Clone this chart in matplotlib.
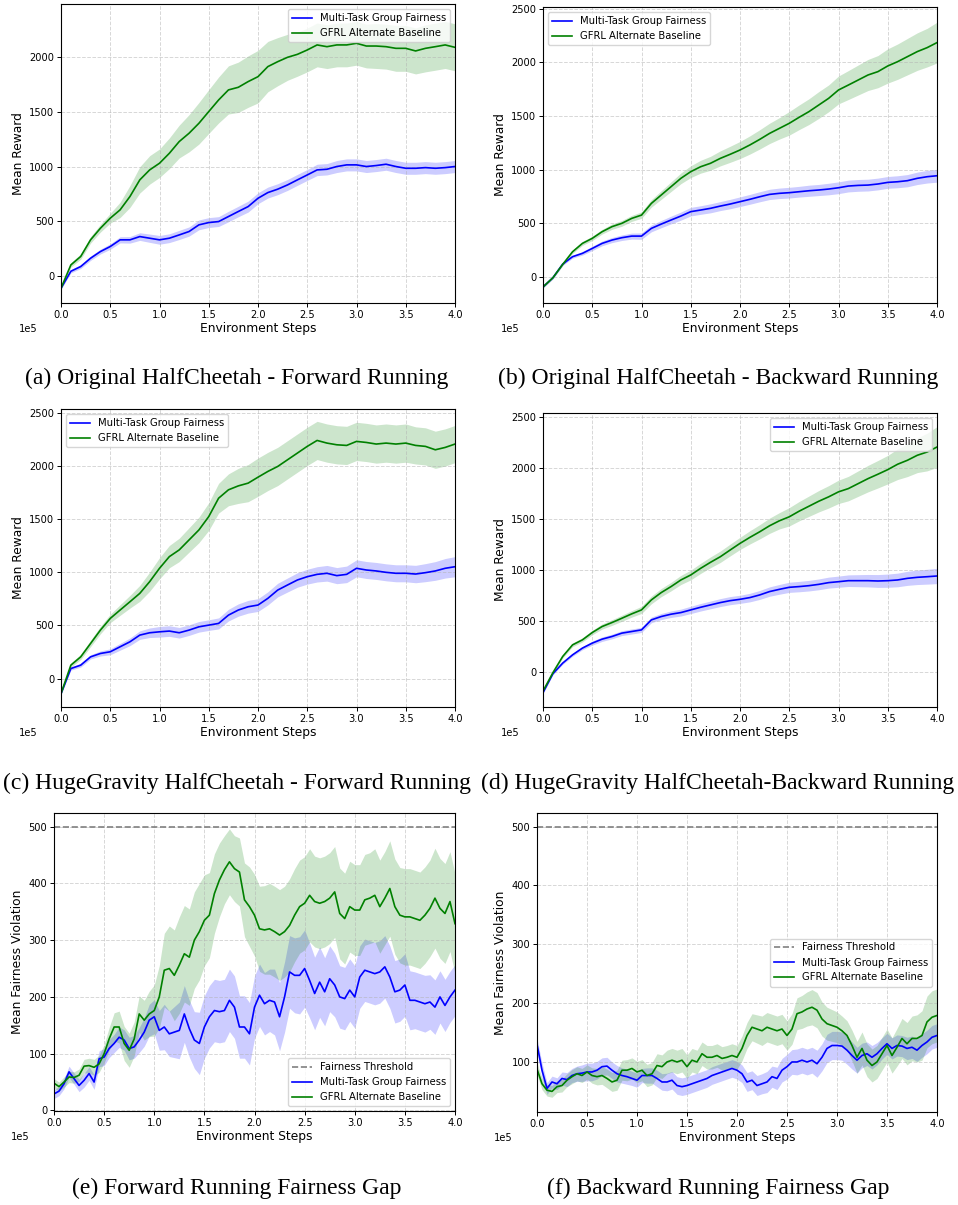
import matplotlib
matplotlib.use('Agg')
import matplotlib.pyplot as plt
import numpy as np

W, H = 958, 1205

# x grids (environment steps)
steps_reward = np.arange(41) * 10000
steps_fair = np.arange(81) * 5000

# (a) Original HalfCheetah - Forward Running
a_mtgf = [-110, 45, 88, 164, 225, 271, 332, 332, 362, 347,
          332, 347, 377, 408, 469, 490, 499, 545, 591, 636,
          712, 764, 795, 834, 880, 925, 971, 977, 1002, 1017,
          1017, 1002, 1011, 1023, 1002, 986, 986, 992, 986, 992,
          1002]
a_mtgf_hw = [10, 15, 18, 20, 22, 25, 28, 30, 35, 38,
             40, 40, 42, 42, 45, 45, 45, 48, 48, 50,
             50, 50, 50, 50, 50, 50, 52, 52, 55, 55,
             55, 55, 55, 55, 55, 55, 55, 55, 55, 55,
             55]
a_gfrl = [-110, 103, 180, 332, 438, 530, 606, 728, 880, 971,
          1032, 1123, 1230, 1306, 1397, 1504, 1610, 1702, 1726, 1778,
          1823, 1915, 1960, 2000, 2027, 2067, 2113, 2097, 2113, 2113,
          2128, 2103, 2103, 2097, 2082, 2082, 2058, 2082, 2097, 2113,
          2091]
a_gfrl_hw = [15, 20, 25, 30, 35, 45, 70, 100, 120, 130,
             130, 140, 150, 170, 190, 200, 210, 220, 230, 235,
             240, 230, 220, 210, 200, 200, 200, 200, 200, 200,
             200, 200, 205, 205, 210, 210, 210, 215, 215, 215,
             215]

# (b) Original HalfCheetah - Backward Running
b_mtgf = [-95, -10, 118, 187, 218, 264, 311, 342, 364, 379,
          379, 451, 491, 529, 566, 607, 622, 638, 659, 678,
          700, 722, 746, 768, 778, 784, 793, 802, 809, 818,
          830, 846, 852, 855, 865, 880, 886, 896, 918, 933,
          942]
b_mtgf_hw = [10, 10, 12, 14, 16, 20, 22, 24, 26, 28,
             30, 32, 34, 36, 38, 40, 40, 42, 42, 44,
             45, 46, 47, 48, 49, 50, 50, 52, 52, 54,
             55, 55, 55, 55, 55, 55, 56, 57, 58, 59,
             60]
b_gfrl = [-95, -10, 115, 233, 311, 358, 420, 467, 498, 544,
          575, 684, 762, 840, 918, 980, 1026, 1058, 1104, 1142,
          1182, 1229, 1281, 1337, 1384, 1431, 1487, 1540, 1602, 1664,
          1742, 1788, 1835, 1882, 1913, 1966, 2006, 2053, 2100, 2137,
          2184]
b_gfrl_hw = [10, 10, 12, 15, 18, 20, 22, 25, 27, 28,
             30, 35, 40, 45, 50, 55, 60, 65, 70, 75,
             80, 85, 90, 95, 100, 110, 115, 120, 125, 125,
             130, 135, 140, 145, 150, 160, 165, 170, 175, 180,
             190]

# (c) HugeGravity HalfCheetah - Forward Running
c_mtgf = [-142, 94, 126, 204, 236, 252, 299, 346, 409, 431,
          440, 447, 431, 456, 487, 503, 519, 597, 645, 676,
          692, 755, 833, 881, 928, 959, 981, 991, 969, 981,
          1038, 1022, 1013, 1000, 991, 991, 984, 997, 1013, 1038,
          1053]
c_mtgf_hw = [10, 15, 18, 20, 24, 28, 32, 36, 40, 45,
             50, 50, 50, 50, 50, 50, 52, 55, 58, 60,
             60, 62, 64, 66, 68, 70, 72, 74, 76, 78,
             80, 80, 80, 80, 80, 80, 82, 85, 88, 92,
             95]
c_gfrl = [-142, 126, 204, 330, 456, 566, 645, 723, 802, 912,
          1038, 1148, 1211, 1305, 1399, 1525, 1698, 1777, 1814, 1840,
          1896, 1950, 1997, 2060, 2123, 2186, 2242, 2217, 2201, 2195,
          2233, 2223, 2208, 2217, 2208, 2217, 2195, 2186, 2154, 2176,
          2208]
c_gfrl_hw = [15, 20, 25, 30, 35, 40, 50, 60, 75, 90,
             100, 105, 110, 115, 120, 130, 140, 150, 165, 175,
             180, 180, 180, 180, 180, 180, 180, 180, 180, 180,
             180, 180, 180, 180, 180, 180, 175, 175, 175, 175,
             175]

# (d) HugeGravity HalfCheetah - Backward Running
d_mtgf = [-205, -20, 85, 166, 232, 281, 320, 346, 379, 395,
          411, 509, 542, 565, 581, 607, 633, 656, 679, 698,
          711, 728, 754, 787, 809, 829, 836, 845, 858, 875,
          884, 894, 894, 894, 891, 894, 901, 917, 927, 933,
          940]
d_mtgf_hw = [10, 10, 12, 14, 16, 20, 22, 23, 24, 25,
             25, 28, 30, 32, 34, 36, 37, 38, 39, 40,
             40, 42, 44, 46, 48, 50, 51, 52, 53, 54,
             55, 57, 59, 61, 63, 65, 67, 69, 71, 73,
             75]
d_gfrl = [-190, -10, 150, 264, 313, 385, 444, 483, 525, 568,
          607, 705, 777, 836, 901, 950, 1015, 1074, 1129, 1195,
          1260, 1319, 1374, 1433, 1482, 1521, 1576, 1625, 1674, 1717,
          1766, 1798, 1847, 1896, 1939, 1984, 2037, 2076, 2125, 2157,
          2206]
d_gfrl_hw = [10, 12, 15, 18, 20, 22, 25, 28, 30, 32,
             35, 38, 40, 42, 45, 48, 50, 53, 56, 58,
             60, 65, 70, 75, 80, 90, 95, 100, 105, 110,
             115, 120, 125, 130, 135, 140, 150, 160, 170, 185,
             200]

# (e) Forward Running Fairness Gap
e_mtgf = [29, 34, 47, 68, 56, 44, 53, 65, 50, 91,
          94, 109, 118, 129, 124, 109, 112, 124, 138, 159,
          165, 141, 147, 135, 138, 141, 170, 144, 124, 118,
          147, 165, 176, 174, 176, 194, 182, 147, 147, 135,
          182, 203, 188, 194, 191, 165, 200, 244, 238, 238,
          250, 229, 206, 226, 209, 232, 221, 200, 197, 212,
          200, 235, 247, 244, 241, 244, 253, 235, 209, 212,
          221, 194, 194, 191, 188, 191, 182, 200, 185, 200,
          212]
e_mtgf_hw = [8, 8, 9, 10, 10, 11, 12, 12, 13, 14,
             15, 16, 16, 18, 18, 20, 20, 22, 25, 28,
             30, 35, 40, 40, 45, 50, 50, 50, 50, 55,
             55, 55, 55, 55, 55, 55, 55, 55, 55, 55,
             55, 55, 55, 55, 58, 60, 62, 64, 66, 68,
             68, 66, 64, 62, 60, 58, 56, 55, 55, 55,
             55, 55, 55, 55, 55, 55, 55, 55, 55, 55,
             55, 52, 50, 50, 50, 48, 48, 46, 46, 45,
             45]
e_gfrl = [48, 42, 50, 59, 58, 62, 78, 79, 76, 82,
          100, 126, 147, 147, 118, 106, 126, 170, 159, 170,
          176, 200, 247, 250, 238, 256, 276, 270, 300, 315,
          335, 344, 382, 406, 424, 438, 426, 420, 371, 359,
          344, 320, 318, 320, 315, 309, 315, 326, 344, 359,
          365, 379, 368, 365, 368, 374, 385, 347, 338, 359,
          353, 353, 371, 374, 379, 359, 374, 391, 359, 344,
          341, 341, 338, 335, 344, 356, 374, 356, 347, 368,
          329]
e_gfrl_hw = [8, 8, 9, 10, 10, 11, 12, 13, 14, 15,
             16, 20, 25, 28, 30, 30, 30, 32, 35, 40,
             45, 55, 65, 75, 80, 85, 85, 85, 85, 85,
             80, 75, 70, 65, 60, 58, 58, 60, 65, 70,
             72, 75, 78, 80, 80, 80, 80, 82, 82, 82,
             82, 82, 80, 80, 80, 80, 80, 80, 80, 80,
             80, 80, 80, 80, 82, 82, 82, 84, 84, 84,
             85, 85, 85, 85, 85, 85, 88, 88, 88, 88,
             88]

# (f) Backward Running Fairness Gap
f_mtgf = [130, 86, 55, 66, 63, 72, 70, 77, 80, 81,
          83, 83, 86, 92, 93, 86, 80, 77, 75, 72,
          69, 77, 77, 77, 72, 66, 66, 69, 60, 58,
          60, 63, 66, 69, 72, 77, 80, 83, 86, 89,
          86, 80, 66, 69, 60, 63, 66, 75, 72, 86,
          92, 100, 100, 103, 100, 103, 97, 108, 123, 128,
          128, 127, 120, 111, 103, 111, 114, 108, 114, 123,
          131, 123, 128, 127, 123, 125, 120, 128, 134, 142,
          145]
f_mtgf_hw = [10, 12, 10, 10, 10, 11, 12, 12, 13, 14,
             15, 15, 15, 15, 15, 14, 14, 13, 13, 12,
             12, 12, 13, 13, 14, 14, 15, 15, 15, 15,
             15, 15, 15, 15, 15, 15, 15, 15, 15, 15,
             15, 15, 16, 16, 17, 17, 18, 18, 19, 20,
             21, 21, 22, 22, 22, 22, 23, 23, 24, 24,
             24, 24, 24, 23, 22, 21, 20, 20, 19, 18,
             18, 18, 18, 18, 19, 19, 19, 20, 20, 20,
             20]
f_gfrl = [88, 63, 52, 50, 58, 60, 69, 75, 80, 77,
          83, 77, 75, 77, 72, 66, 69, 86, 86, 89,
          83, 86, 77, 80, 94, 92, 100, 103, 100, 103,
          92, 103, 100, 114, 108, 108, 111, 106, 108, 111,
          108, 123, 145, 159, 156, 153, 159, 156, 153, 156,
          145, 156, 182, 185, 190, 193, 188, 173, 165, 162,
          159, 153, 145, 128, 108, 123, 103, 94, 100, 114,
          128, 111, 125, 140, 131, 140, 140, 145, 168, 176,
          179]
f_gfrl_hw = [10, 10, 10, 10, 10, 11, 11, 12, 12, 12,
             12, 13, 14, 15, 16, 16, 17, 17, 18, 18,
             18, 18, 19, 19, 20, 20, 20, 20, 20, 20,
             20, 20, 20, 20, 20, 20, 20, 20, 20, 20,
             20, 21, 22, 23, 24, 25, 25, 25, 25, 25,
             25, 26, 27, 28, 29, 30, 30, 29, 28, 27,
             26, 25, 25, 26, 27, 28, 28, 28, 28, 28,
             28, 30, 32, 34, 36, 38, 40, 42, 44, 45,
             45]

captions = ["(a) Original HalfCheetah - Forward Running",
            "(b) Original HalfCheetah - Backward Running",
            "(c) HugeGravity HalfCheetah - Forward Running",
            "(d) HugeGravity HalfCheetah-Backward Running",
            "(e) Forward Running Fairness Gap",
            "(f) Backward Running Fairness Gap"]


def rect(left, top, right, bottom):
    # pixel box -> figure fraction
    return [left / W, 1 - bottom / H, (right - left) / W, (bottom - top) / H]


def draw_panel(ax, steps, mtgf, mtgf_hw, gfrl, gfrl_hw, ylabel, legend_loc, ylim, threshold=None):

    mtgf = np.array(mtgf, dtype=float)
    gfrl = np.array(gfrl, dtype=float)
    mtgf_hw = np.array(mtgf_hw, dtype=float)
    gfrl_hw = np.array(gfrl_hw, dtype=float)

    if threshold is not None:
        ax.axhline(threshold, color='gray', linestyle='--', linewidth=1.2, label='Fairness Threshold')

    ax.plot(steps, mtgf, color='blue', linewidth=1.2, label='Multi-Task Group Fairness')
    ax.fill_between(steps, mtgf - mtgf_hw, mtgf + mtgf_hw, color='blue', alpha=0.2, linewidth=0)
    ax.plot(steps, gfrl, color='green', linewidth=1.2, label='GFRL Alternate Baseline')
    ax.fill_between(steps, gfrl - gfrl_hw, gfrl + gfrl_hw, color='green', alpha=0.2, linewidth=0)

    ax.set_xlim(0, 400000)
    ax.set_ylim(*ylim)
    ax.set_xticks(np.arange(9) * 50000)
    ax.ticklabel_format(axis='x', style='sci', scilimits=(0, 0))
    ax.set_xlabel('Environment Steps', fontsize=8.8, labelpad=2)
    ax.set_ylabel(ylabel, fontsize=8.8, labelpad=3)
    ax.tick_params(labelsize=7.1, length=2.8, width=0.7, pad=2)
    ax.grid(True, linestyle='--', linewidth=0.7, alpha=0.5)

    # the "1e5" multiplier sits on the left under the axis
    off = ax.xaxis.get_offset_text()
    off.set_fontsize(7.1)
    off.set_x(-0.107)
    off.set_horizontalalignment('left')

    ax.legend(loc=legend_loc, fontsize=7.2, handlelength=2.0, borderpad=0.4, labelspacing=0.5)


fig = plt.figure(figsize=(W / 100, H / 100), dpi=100)

ax_a = fig.add_axes(rect(61, 4, 455, 303))
draw_panel(ax_a, steps_reward, a_mtgf, a_mtgf_hw, a_gfrl, a_gfrl_hw, 'Mean Reward', 'upper right', (-245, 2487))

ax_b = fig.add_axes(rect(543, 7, 937, 303))
draw_panel(ax_b, steps_reward, b_mtgf, b_mtgf_hw, b_gfrl, b_gfrl_hw, 'Mean Reward', 'upper left', (-245, 2516))

ax_c = fig.add_axes(rect(61, 409, 455, 707))
draw_panel(ax_c, steps_reward, c_mtgf, c_mtgf_hw, c_gfrl, c_gfrl_hw, 'Mean Reward', 'upper left', (-268, 2538))

ax_d = fig.add_axes(rect(543, 413, 937, 707))
draw_panel(ax_d, steps_reward, d_mtgf, d_mtgf_hw, d_gfrl, d_gfrl_hw, 'Mean Reward', 'upper right', (-346, 2540))

ax_e = fig.add_axes(rect(54, 813, 455, 1111))
draw_panel(ax_e, steps_fair, e_mtgf, e_mtgf_hw, e_gfrl, e_gfrl_hw, 'Mean Fairness Violation', 'lower right',
           (-1, 524), threshold=500)

ax_f = fig.add_axes(rect(537, 813, 937, 1112))
draw_panel(ax_f, steps_fair, f_mtgf, f_mtgf_hw, f_gfrl, f_gfrl_hw, 'Mean Fairness Violation', 'center right',
           (15, 523), threshold=500)

# sub-figure captions
cap_pos = [(237, 378), (718, 378), (237, 783), (718, 783), (237, 1188), (718, 1188)]
for (cx, cy), text in zip(cap_pos, captions):
    fig.text(cx / W, 1 - cy / H, text, ha='center', va='center', fontsize=17, family='Liberation Serif')

fig.savefig('out.png', dpi=100)
